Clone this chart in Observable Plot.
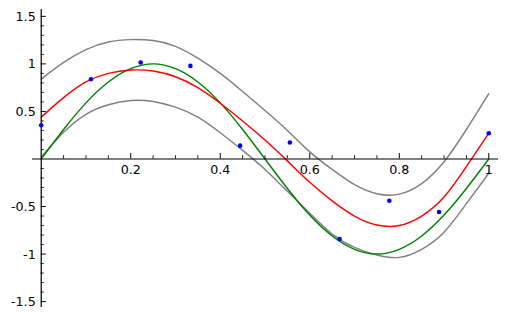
<!DOCTYPE html>
<html>
<head>
<meta charset="utf-8">
<script src="https://cdn.jsdelivr.net/npm/d3@7"></script>
<script src="https://cdn.jsdelivr.net/npm/@observablehq/plot@0.6"></script>
<style>
  html, body { margin: 0; padding: 0; background: #fff; }
  #chart svg { display: block; }
</style>
</head>
<body>
<div id="chart"></div>
<script>
// Sample x positions for the curves (every 0.05)
const curveX = [0, 0.05, 0.1, 0.15, 0.2, 0.25, 0.3, 0.35, 0.4, 0.45, 0.5,
                0.55, 0.6, 0.65, 0.7, 0.75, 0.8, 0.85, 0.9, 0.95, 1];
// Green curve
const greenY = [0, 0.31, 0.59, 0.81, 0.95, 1.0, 0.95, 0.81, 0.59, 0.31, 0,
                -0.31, -0.59, -0.81, -0.95, -1.0, -0.95, -0.81, -0.59, -0.31, 0];
// Red curve
const redY = [0.44, 0.645, 0.81, 0.9, 0.935, 0.925, 0.865, 0.75, 0.586, 0.4, 0.2,
              -0.02, -0.245, -0.44, -0.6, -0.695, -0.70, -0.6, -0.4, -0.08, 0.27];
// Upper gray curve
const upperY = [0.84, 1.015, 1.15, 1.23, 1.255, 1.245, 1.185, 1.06, 0.9, 0.71, 0.51,
                0.3, 0.075, -0.11, -0.27, -0.365, -0.37, -0.26, -0.03, 0.31, 0.687];
// Lower gray curve
const lowerY = [0.02, 0.28, 0.47, 0.57, 0.615, 0.605, 0.545, 0.44, 0.276, 0.09, -0.11,
                -0.34, -0.57, -0.79, -0.93, -1.01, -1.035, -0.95, -0.77, -0.47, -0.15];

// Blue sample points
const pointX = [0, 1/9, 2/9, 3/9, 4/9, 5/9, 6/9, 7/9, 8/9, 1];
const pointY = [0.355, 0.839, 1.014, 0.979, 0.14, 0.174, -0.842, -0.44, -0.558, 0.27];

// Axis ticks and labels
const xMajorTicks = [0.2, 0.4, 0.6, 0.8, 1];
const xMinorTicks = [0.05, 0.1, 0.15, 0.25, 0.3, 0.35, 0.45, 0.5, 0.55, 0.65, 0.7, 0.75, 0.85, 0.9, 0.95];
const xTickLabels = ["0.2", "0.4", "0.6", "0.8", "1"];
const yMajorTicks = [1.5, 1, 0.5, -0.5, -1, -1.5];
const yMinorTicks = [1.4, 1.3, 1.2, 1.1, 0.9, 0.8, 0.7, 0.6, 0.4, 0.3, 0.2, 0.1,
                     -0.1, -0.2, -0.3, -0.4, -0.6, -0.7, -0.8, -0.9, -1.1, -1.2, -1.3, -1.4];
const yTickLabels = ["1.5", "1", "0.5", "-0.5", "-1", "-1.5"];

// Layout / style
const W = 506, H = 316;
const xDomain = [-0.0195, 1.0217];
const yDomain = [-1.562, 1.572];
const mL = 32, mR = 8, mT = 9, mB = 9;
const pxPerX = (W - mL - mR) / (xDomain[1] - xDomain[0]);
const pxPerY = (H - mT - mB) / (yDomain[1] - yDomain[0]);
const font = 12.7;

const chart = Plot.plot({
  width: W,
  height: H,
  marginLeft: mL,
  marginRight: mR,
  marginTop: mT,
  marginBottom: mB,
  style: {fontFamily: "'DejaVu Sans', sans-serif", fontSize: font + "px", background: "#fff", overflow: "visible"},
  x: {domain: xDomain, axis: null},
  y: {domain: yDomain, axis: null},
  marks: [
    Plot.lineY(lowerY, {x: curveX, curve: "natural", stroke: "#808080", strokeWidth: 1.45}),
    Plot.lineY(upperY, {x: curveX, curve: "natural", stroke: "#808080", strokeWidth: 1.45}),
    Plot.lineY(greenY, {x: curveX, curve: "natural", stroke: "#008000", strokeWidth: 1.45}),
    Plot.lineY(redY, {x: curveX, curve: "natural", stroke: "#ff0000", strokeWidth: 1.45}),
    // axes
    Plot.ruleY([0], {x1: xDomain[0], x2: xDomain[1], stroke: "#000", strokeWidth: 1.2}),
    Plot.ruleX([0], {y1: yDomain[0], y2: yDomain[1], stroke: "#000", strokeWidth: 1.2}),
    Plot.ruleX(xMajorTicks, {y1: 0, y2: 5.5 / pxPerY, stroke: "#000", strokeWidth: 1}),
    Plot.ruleX(xMinorTicks, {y1: 0, y2: 3.2 / pxPerY, stroke: "#000", strokeWidth: 0.9}),
    Plot.ruleY(yMajorTicks, {x1: 0, x2: 5 / pxPerX, stroke: "#000", strokeWidth: 1}),
    Plot.ruleY(yMinorTicks, {x1: 0, x2: 3 / pxPerX, stroke: "#000", strokeWidth: 0.9}),
    Plot.text(xTickLabels, {x: xMajorTicks, y: xMajorTicks.map(() => 0), text: d => d,
      dy: 10.5, textAnchor: "middle", fill: "#000", fontSize: font}),
    Plot.text(yTickLabels, {x: yMajorTicks.map(() => 0), y: yMajorTicks, text: d => d,
      dx: -5.5, dy: 0.5, textAnchor: "end", fill: "#000", fontSize: font}),
    // points
    Plot.dot(pointY, {x: pointX, y: d => d, r: 2.3, fill: "#0000ff", stroke: "none"})
  ]
});
document.getElementById("chart").appendChild(chart);
</script>
</body>
</html>
